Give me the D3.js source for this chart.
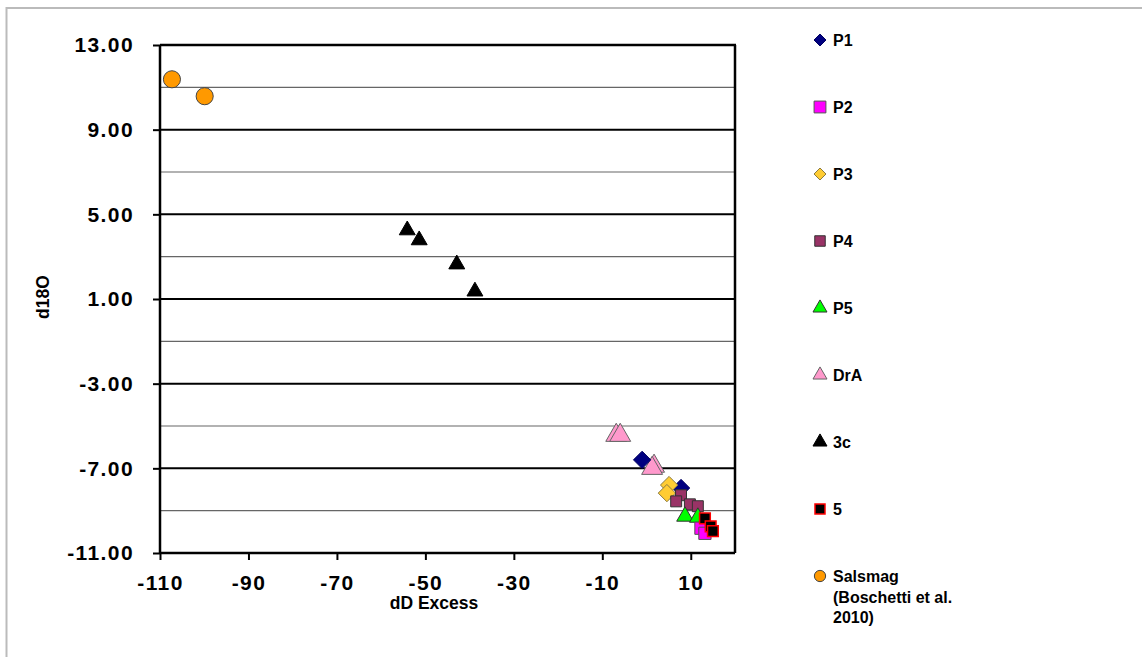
<!DOCTYPE html>
<html>
<head>
<meta charset="utf-8">
<script src="https://cdn.jsdelivr.net/npm/d3@7"></script>
<style>
  body { margin: 0; background: #fff; }
  text { font-family: "Liberation Sans", Arial, sans-serif; font-weight: bold; }
</style>
</head>
<body>
<script>
const W = 1142, H = 657;

// series values: [dD excess, d18O]
const P1 = [[-1.0, -6.6], [7.8, -7.93]];
const P2 = [[12.3, -9.83], [13.2, -10.07]];
const P3 = [[5.1, -7.79], [4.6, -8.17]];
const P4 = [[7.8, -8.27], [6.7, -8.56], [9.8, -8.70], [11.6, -8.79]];
const P5 = [[8.7, -9.27], [11.6, -9.32]];
const DrA = [[-6.85, -5.44], [-5.95, -5.44], [1.7, -6.9], [1.26, -7.0]];
const C3 = [[-54.1, 4.25], [-51.4, 3.78], [-42.9, 2.64], [-38.8, 1.36]];
const S5 = [[13.2, -9.36], [14.5, -9.74], [15.0, -9.97]];
const Salsmag = [[-107.3, 11.38], [-99.9, 10.58]];

const xTicks = [-110, -90, -70, -50, -30, -10, 10];
const yTicks = [13, 9, 5, 1, -3, -7, -11];
const yGrid = [11, 9, 7, 5, 3, 1, -1, -3, -5, -7, -9];

// square diamond (width = height), like the spreadsheet marker
const squareDiamond = {
  draw(ctx, size) {
    const r = Math.sqrt(size / 2);
    ctx.moveTo(0, -r); ctx.lineTo(r, 0); ctx.lineTo(0, r); ctx.lineTo(-r, 0); ctx.closePath();
  }
};
const shapes = {diamond: squareDiamond, square: d3.symbolSquare, triangle: d3.symbolTriangle, circle: d3.symbolCircle};

const series = [
  {name: "P1", data: P1, shape: "diamond", fill: "#000080", stroke: "#000060", size: 150, lsize: 72},
  {name: "P2", data: P2, shape: "square", fill: "#ff00ff", stroke: "#555", size: 150, lsize: 140},
  {name: "P3", data: P3, shape: "diamond", fill: "#ffcc33", stroke: "#8a7a40", size: 150, lsize: 72},
  {name: "P4", data: P4, shape: "square", fill: "#993366", stroke: "#333", size: 120, lsize: 110},
  {name: "P5", data: P5, shape: "triangle", fill: "#00ff00", stroke: "#333", size: 120, lsize: 85},
  {name: "DrA", data: DrA, shape: "triangle", fill: "#ff99cc", stroke: "#666", size: 190, lsize: 85},
  {name: "3c", data: C3, shape: "triangle", fill: "#000", stroke: "#000", size: 110, lsize: 85},
  {name: "5", data: S5, shape: "square", fill: "#000", stroke: "#ff0000", size: 115, lsize: 100},
  {name: ["Salsmag", "(Boschetti et al.", "2010)"], data: Salsmag, shape: "circle", fill: "#ff9900", stroke: "#444", size: 230, lsize: 100}
];

const hyphen = f => d => f(d).replace("\u2212", "-");

const svg = d3.select("body").append("svg").attr("width", W).attr("height", H);

// outer frame
svg.append("rect").attr("x", 6.5).attr("y", 8).attr("width", W + 10).attr("height", H + 10)
  .attr("fill", "none").attr("stroke", "#bbb").attr("stroke-width", 2);

const pLeft = 160, pRight = 735, pTop = 45, pBottom = 553;
const x = d3.scaleLinear().domain([-110, 20]).range([pLeft, pRight]);
const y = d3.scaleLinear().domain([-11, 13]).range([pBottom, pTop]);

// gridlines
svg.append("g").selectAll("line").data(yGrid).join("line")
  .attr("x1", pLeft).attr("x2", pRight)
  .attr("y1", d => y(d)).attr("y2", d => y(d))
  .attr("stroke", d => yTicks.includes(d) ? "#000" : "#666")
  .attr("stroke-width", d => yTicks.includes(d) ? 2 : 1.2);

// plot frame top and right
svg.append("line").attr("x1", pLeft).attr("x2", pRight + 1).attr("y1", pTop).attr("y2", pTop)
  .attr("stroke", "#000").attr("stroke-width", 2.5);
svg.append("line").attr("x1", pRight).attr("x2", pRight).attr("y1", pTop).attr("y2", pBottom)
  .attr("stroke", "#000").attr("stroke-width", 2.5);

// axes
const xAxis = svg.append("g").attr("transform", `translate(0,${pBottom})`)
  .call(d3.axisBottom(x).tickValues(xTicks).tickSize(7).tickPadding(15).tickFormat(hyphen(d3.format("d"))));
const yAxis = svg.append("g").attr("transform", `translate(${pLeft},0)`)
  .call(d3.axisLeft(y).tickValues(yTicks).tickSize(7).tickPadding(20).tickFormat(hyphen(d3.format(".2f"))));
[xAxis, yAxis].forEach(a => {
  a.select(".domain").attr("stroke", "#000").attr("stroke-width", 2.5);
  a.selectAll(".tick line").attr("stroke", "#000").attr("stroke-width", 2);
  a.selectAll("text").attr("font-size", 21).attr("fill", "#000").attr("letter-spacing", "1.4px")
    .attr("font-family", "Liberation Sans, Arial, sans-serif").attr("font-weight", "bold");
});
xAxis.selectAll("text").attr("dy", "0.7em");
yAxis.selectAll("text").attr("dx", "1px");
xAxis.select(".domain").attr("d", `M${pLeft},0H${pRight}`);
yAxis.select(".domain").attr("d", `M0,${pBottom}V${pTop}`);

// axis titles
svg.append("text").attr("x", 434).attr("y", 609).attr("text-anchor", "middle")
  .attr("font-size", 17.5).text("dD Excess");
svg.append("text").attr("transform", "translate(49,297) rotate(-90)").attr("text-anchor", "middle")
  .attr("font-size", 17.5).text("d18O");

// points
const order = [8, 6, 5, 0, 2, 3, 4, 1, 7];
order.forEach(i => {
  const s = series[i];
  const sym = d3.symbol().type(shapes[s.shape]).size(s.size);
  svg.append("g").selectAll("path").data(s.data).join("path")
    .attr("d", sym)
    .attr("transform", d => `translate(${x(d[0])},${y(d[1])})`)
    .attr("fill", s.fill).attr("stroke", s.stroke).attr("stroke-width", s.name === "5" ? 1.5 : 1);
});

// legend
const legY = d3.scalePoint().domain(d3.range(series.length)).range([40, 576]);
const leg = svg.append("g").selectAll("g").data(series).join("g")
  .attr("transform", (d, i) => `translate(820,${legY(i)})`);
leg.append("path")
  .attr("d", d => d3.symbol().type(shapes[d.shape]).size(d.lsize)())
  .attr("fill", d => d.fill).attr("stroke", d => d.stroke).attr("stroke-width", d => d.name === "5" ? 1.5 : 1);
leg.append("text").attr("x", 13).attr("y", 6).attr("font-size", 16).each(function(d) {
  const lines = Array.isArray(d.name) ? d.name : [d.name];
  d3.select(this).selectAll("tspan").data(lines).join("tspan")
    .attr("x", 13).attr("dy", (l, j) => j === 0 ? 0 : 20.5).text(l => l);
});
</script>
</body>
</html>
